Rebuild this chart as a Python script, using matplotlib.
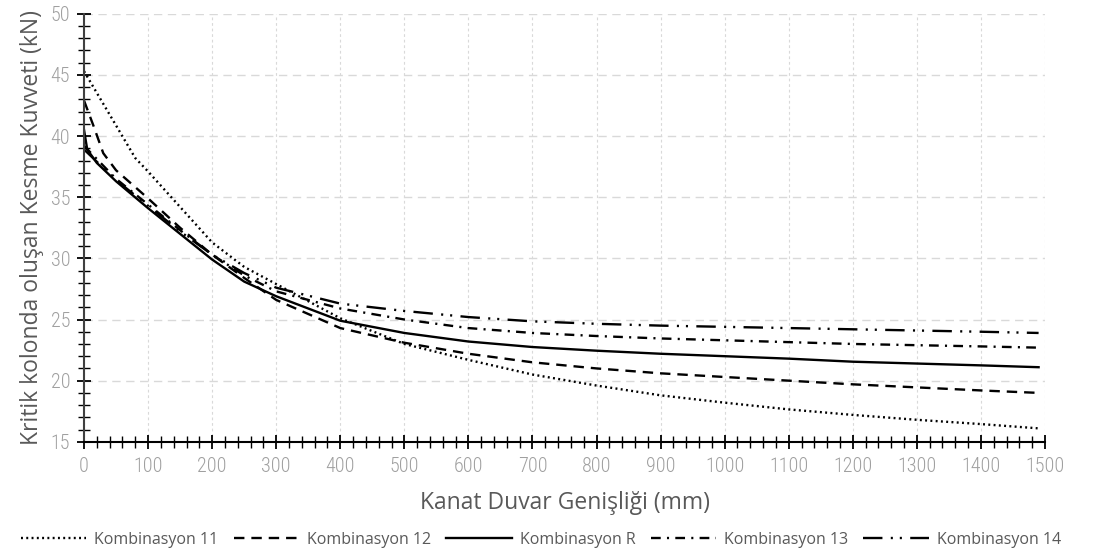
import matplotlib
matplotlib.use("Agg")
import matplotlib.pyplot as plt
from matplotlib.ticker import MultipleLocator

# wing wall width (mm)
x_k11 = [0, 80, 100, 150, 200, 250, 300, 400, 500, 600, 700, 800, 900, 1000, 1100, 1200, 1300, 1400, 1490]
k11 = [45.3, 38.2, 37.1, 34.2, 31.3, 29.3, 27.9, 25.1, 23.0, 21.7, 20.5, 19.6, 18.8, 18.2, 17.65, 17.2, 16.8, 16.45, 16.1]

x_k12 = [0, 15, 30, 50, 100, 150, 200, 250, 300, 400, 500, 600, 700, 800, 900, 1000, 1100, 1200, 1300, 1400, 1490]
k12 = [42.9, 40.8, 38.6, 37.2, 34.9, 32.5, 30.3, 28.4, 26.6, 24.3, 23.1, 22.2, 21.5, 21.0, 20.6, 20.3, 20.0, 19.7, 19.45, 19.2, 19.0]

x_r = [0, 5, 20, 50, 100, 150, 200, 250, 300, 400, 500, 600, 700, 800, 900, 1000, 1100, 1200, 1300, 1400, 1490]
kr = [40.5, 38.9, 37.8, 36.3, 34.1, 32.0, 29.9, 28.1, 26.9, 24.9, 23.9, 23.2, 22.75, 22.45, 22.2, 22.0, 21.8, 21.55, 21.4, 21.25, 21.1]

x_k13 = [0, 50, 100, 150, 200, 250, 300, 400, 500, 600, 700, 800, 900, 1000, 1100, 1200, 1300, 1400, 1490]
k13 = [39.2, 36.5, 34.4, 32.3, 30.3, 28.6, 27.3, 25.9, 25.0, 24.3, 23.9, 23.65, 23.45, 23.3, 23.15, 23.0, 22.9, 22.8, 22.7]

x_k14 = [0, 50, 100, 150, 200, 250, 300, 400, 500, 600, 700, 800, 900, 1000, 1100, 1200, 1300, 1400, 1490]
k14 = [38.9, 36.4, 34.3, 32.2, 30.3, 28.8, 27.6, 26.3, 25.7, 25.2, 24.85, 24.65, 24.5, 24.4, 24.3, 24.2, 24.1, 24.0, 23.9]

labels = ['Kombinasyon 11', 'Kombinasyon 12', 'Kombinasyon R', 'Kombinasyon 13', 'Kombinasyon 14']

plt.rcParams['lines.scale_dashes'] = False
plt.rcParams['font.family'] = ['Open Sans', 'DejaVu Sans']

fig = plt.figure(figsize=(10.97, 5.54), dpi=100)
ax = fig.add_axes([0.0766, 0.2025, 0.876, 0.7727])

lw = 1.7
ax.plot(x_k11, k11, color='black', lw=lw, linestyle=(0, (1.4, 2.4)), label=labels[0])
ax.plot(x_k12, k12, color='black', lw=lw, linestyle=(0, (7.5, 5.0)), label=labels[1])
ax.plot(x_r, kr, color='black', lw=lw, linestyle='-', label=labels[2])
ax.plot(x_k13, k13, color='black', lw=lw, linestyle=(0, (7, 4.5, 1.5, 4.5)), label=labels[3])
ax.plot(x_k14, k14, color='black', lw=lw, linestyle=(0, (14, 6, 1.5, 5, 1.5, 6)), label=labels[4])

ax.set_xlim(0, 1500)
ax.set_ylim(15, 50)
ax.xaxis.set_major_locator(MultipleLocator(100))
ax.xaxis.set_minor_locator(MultipleLocator(20))
ax.yaxis.set_major_locator(MultipleLocator(5))
ax.yaxis.set_minor_locator(MultipleLocator(1))

# grid: dashed horizontal, dotted vertical
ax.grid(axis='y', which='major', color='#d9d9d9', lw=1.0, linestyle=(0, (6, 4)))
ax.grid(axis='x', which='major', color='#d9d9d9', lw=0.8, linestyle=(0, (2, 2)))
ax.set_axisbelow(True)

for s in ['top', 'right']:
    ax.spines[s].set_visible(False)
ax.spines['left'].set_color('#404040')
ax.spines['bottom'].set_color('black')
ax.spines['left'].set_linewidth(1.5)
ax.spines['bottom'].set_linewidth(1.5)

ax.tick_params(which='major', direction='inout', length=10, width=1.3, colors='black',
               labelcolor='#a0a0a0', labelsize=14.5)
ax.tick_params(axis='x', which='major', pad=6)
ax.tick_params(axis='y', which='major', pad=5)
ax.tick_params(which='minor', direction='inout', length=8, width=1.0, colors='black')

ax.set_xlabel('Kanat Duvar Genişliği (mm)', fontsize=16.5, color='#595959', labelpad=11)
ax.set_ylabel('Kritik kolonda oluşan Kesme Kuvveti (kN)', fontsize=16.5, color='#595959', labelpad=5)

leg = fig.legend(loc='center', bbox_to_anchor=(0.493, 0.026), ncol=5, frameon=False,
                 handlelength=4.1, columnspacing=0.95, handletextpad=0.5, fontsize=11.5)
for t in leg.get_texts():
    t.set_color('#595959')

# thin condensed tick labels
fig.canvas.draw()
for t in ax.get_xticklabels() + ax.get_yticklabels():
    t.set_fontfamily(['Roboto Condensed', 'Liberation Sans Narrow', 'Roboto', 'DejaVu Sans'])
    t.set_fontweight('light')
    t.set_fontstretch('condensed')

fig.savefig('out.png', dpi=100)
